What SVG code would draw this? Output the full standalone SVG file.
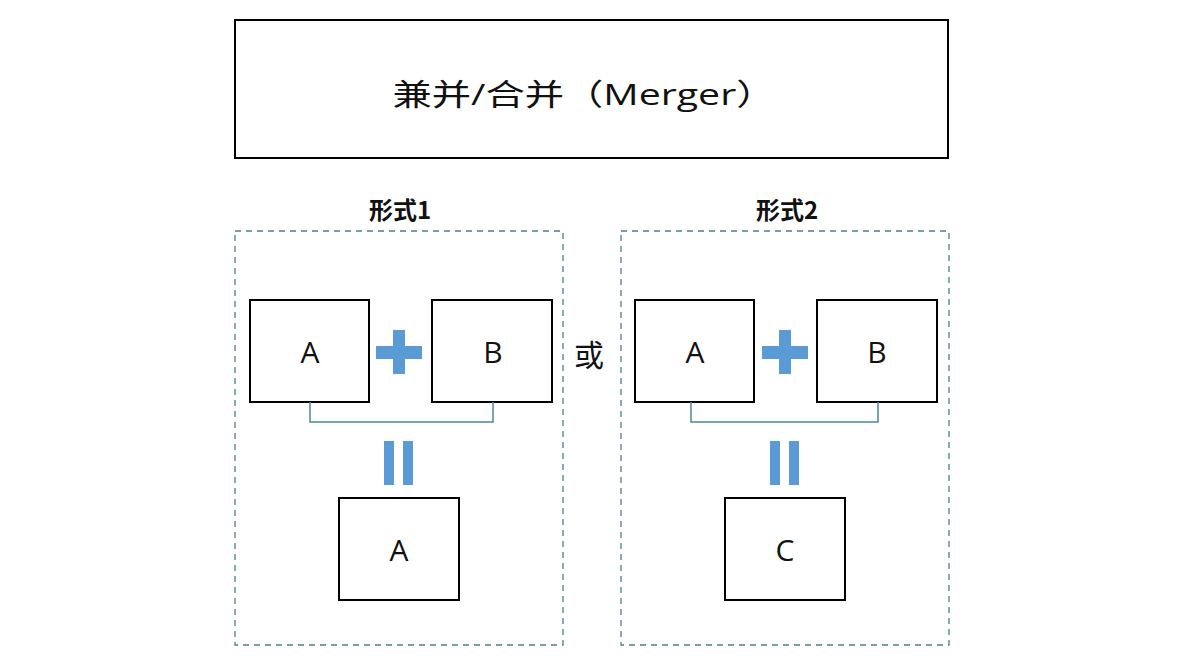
<svg xmlns="http://www.w3.org/2000/svg" width="1192" height="670" viewBox="0 0 1192 670">
<style>
.box{fill:#fff;stroke:#000;stroke-width:2}
.dash{fill:none;stroke:#4f7f86;stroke-width:1.3;stroke-dasharray:6,5}
.t{font-family:"Open Sans","Noto Sans CJK SC",sans-serif;font-size:30px;text-anchor:middle;fill:#111}
.h{font-family:"Noto Sans CJK SC",sans-serif;font-size:24px;font-weight:bold;text-anchor:middle;fill:#111}
.sym{fill:#5b9bd5}
.conn{fill:none;stroke:#4a8a94;stroke-width:1.5}
</style>
<rect width="1192" height="670" fill="#fff"/>
<g id="title"><rect class="box" x="235" y="20" width="713" height="138"/>
<text class="t" x="584" y="105" font-size="42" textLength="383" lengthAdjust="spacingAndGlyphs">兼并/合并（Merger）</text></g>
<g id="form1"><text class="h" x="400" y="219">形式1</text><rect class="dash" x="235" y="231" width="328" height="414"/></g>
<g id="form2"><text class="h" x="787" y="219">形式2</text><rect class="dash" x="621" y="231" width="328" height="414"/></g>
<g id="a1"><rect class="box" x="250" y="300" width="119" height="102"/><text class="t" x="310" y="363">A</text></g>
<g id="b1"><rect class="box" x="432" y="300" width="120" height="102"/><text class="t" x="493" y="363">B</text></g>
<g id="r1"><rect class="box" x="339" y="498" width="120" height="102"/><text class="t" x="399" y="561">A</text></g>
<g id="a2"><rect class="box" x="635" y="300" width="119" height="102"/><text class="t" x="695" y="363">A</text></g>
<g id="b2"><rect class="box" x="817" y="300" width="120" height="102"/><text class="t" x="877" y="363">B</text></g>
<g id="r2"><rect class="box" x="725" y="498" width="120" height="102"/><text class="t" x="785" y="561">C</text></g>
<g id="or"><text class="t" x="589" y="366" font-size="33">或</text></g>
<g id="symbols">
<rect class="sym" x="376" y="346" width="46" height="13"/><rect class="sym" x="393" y="330" width="12" height="44"/>
<rect class="sym" x="384" y="441" width="10" height="44"/><rect class="sym" x="403" y="441" width="10" height="44"/>
<rect class="sym" x="762" y="346" width="46" height="13"/><rect class="sym" x="779" y="330" width="12" height="44"/>
<rect class="sym" x="770" y="441" width="10" height="44"/><rect class="sym" x="789" y="441" width="10" height="44"/>
</g>
<g id="connectors">
<path class="conn" d="M310 402V422H493V402"/>
<path class="conn" d="M691 402V422H878V402"/>
</g>
</svg>
